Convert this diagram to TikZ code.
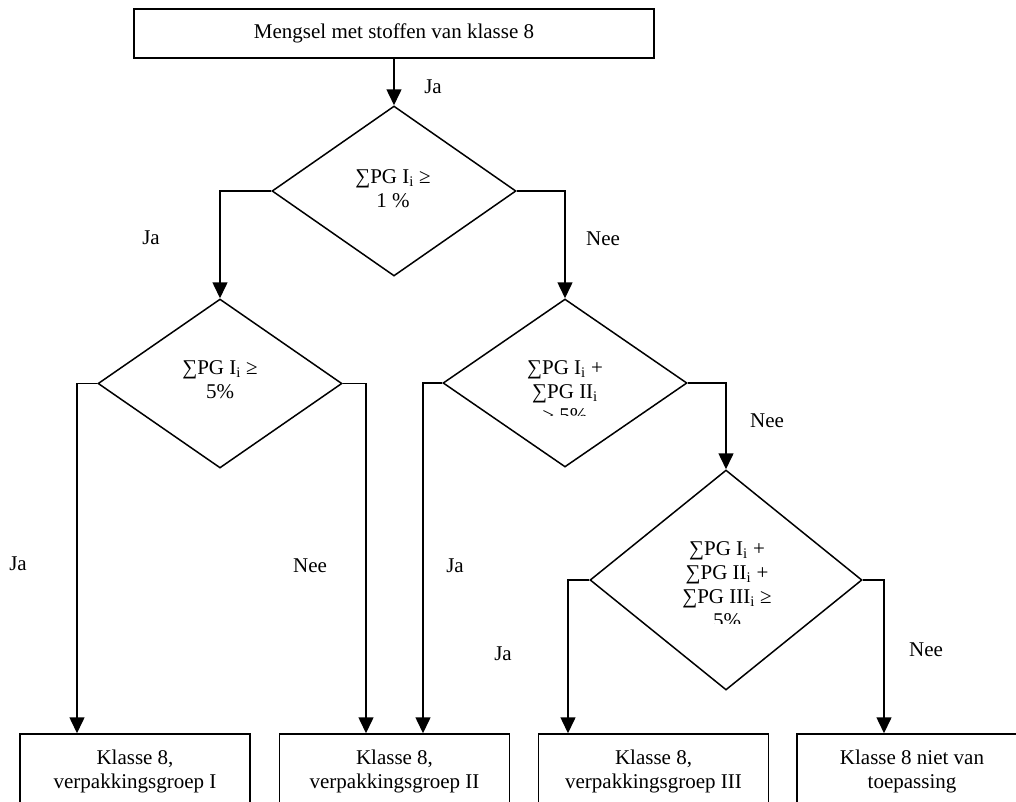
\documentclass[tikz,border=0pt]{standalone}
\usepackage{fontspec}
\setmainfont{Liberation Serif}
\usetikzlibrary{shapes.geometric,arrows.meta}
\newcommand{\subi}{\textsubscript{i}}
\tikzset{
	blok/.style={draw, line width=1.5pt, minimum width=230pt, minimum height=75pt, inner sep=0pt, align=center},
	keuze/.style={draw, diamond, line width=1.5pt, inner sep=0pt, minimum width=244pt, minimum height=170pt},
	tekst/.style={align=center, inner sep=0pt},
	pijl/.style={line width=1.5pt, -{Triangle[length=16pt,width=15pt]}}
}

\begin{document}
\begin{tikzpicture}[x=1pt, y=-1pt, font=\fontsize{21}{24}\selectfont]
		%%%%% START %%%%%
		
		\useasboundingbox (0, 0) rectangle (1016, 801);
		\clip (0, 0) rectangle (1016, 801);
		
		\node[blok, line width=2pt, minimum width=520pt, minimum height=49pt] (start) at (394, 33.5) {Mengsel met stoffen van klasse 8};
		
		\node[keuze] (d1) at (394, 191) {};
		\node[keuze, minimum height=169pt] (d2) at (220, 383.5) {};
		\node[keuze, minimum height=168pt] (d3) at (565, 383) {};
		\node[keuze, minimum width=272pt, minimum height=220pt] (d4) at (726, 580) {};
		
		\node[tekst] (t1) at (393, 188.5) {∑PG I\subi{} ≥\\1 \%};
		\node[tekst] (t2) at (220, 379.5) {∑PG I\subi{} ≥\\5\%};
		\begin{scope}
			\clip (443, 299) rectangle (687, 415);
			\node[tekst] (t3) at (565, 391.5) {∑PG I\subi{} +\\∑PG II\subi\\≥ 5\%};
		\end{scope}
		\begin{scope}
			\clip (590, 470) rectangle (862, 623);
			\node[tekst] (t4) at (727, 585) {∑PG I\subi{} +\\∑PG II\subi{} +\\∑PG III\subi{} ≥\\5\%};
		\end{scope}
		
		\node[blok] (b1) at (135, 771.5) {Klasse 8,\\verpakkingsgroep I};
		\node[blok] (b2) at (394.5, 771.5) {Klasse 8,\\verpakkingsgroep II};
		\node[blok] (b3) at (653.5, 771.5) {Klasse 8,\\verpakkingsgroep III};
		\node[blok] (b4) at (912, 771.5) {Klasse 8 niet van\\toepassing};
		
		\coordinate (h1) at (77, 383.5);
		\coordinate (h2) at (366, 383.5);
		\coordinate (h3) at (423, 383);
		\coordinate (h4) at (568, 580);
		\coordinate (h5) at (884, 580);
		
		\draw[pijl] (start.south) -- (d1.north);
		\draw[pijl] (d1.west) -| (d2.north);
		\draw[pijl] (d1.east) -| (d3.north);
		\draw[pijl] (d3.east) -| (d4.north);
		\draw[pijl] (d2.west) -- (h1) -- (h1 |- b1.north);
		\draw[pijl] (d2.east) -- (h2) -- (h2 |- b2.north);
		\draw[pijl] (d3.west) -- (h3) -- (h3 |- b2.north);
		\draw[pijl] (d4.west) -- (h4) -- (h4 |- b3.north);
		\draw[pijl] (d4.east) -- (h5) -- (h5 |- b4.north);
		
		\node[tekst] (ja1) at (433, 87) {Ja};
		\node[tekst] (ja2) at (151, 238) {Ja};
		\node[tekst] (nee1) at (603, 239) {Nee};
		\node[tekst] (nee2) at (767, 421) {Nee};
		\node[tekst] (ja3) at (18, 564) {Ja};
		\node[tekst] (nee3) at (310, 566) {Nee};
		\node[tekst] (ja4) at (455, 566) {Ja};
		\node[tekst] (ja5) at (503, 654) {Ja};
		\node[tekst] (nee4) at (926, 650) {Nee};
		
		%%%%% END %%%%%
\end{tikzpicture}
\end{document}
